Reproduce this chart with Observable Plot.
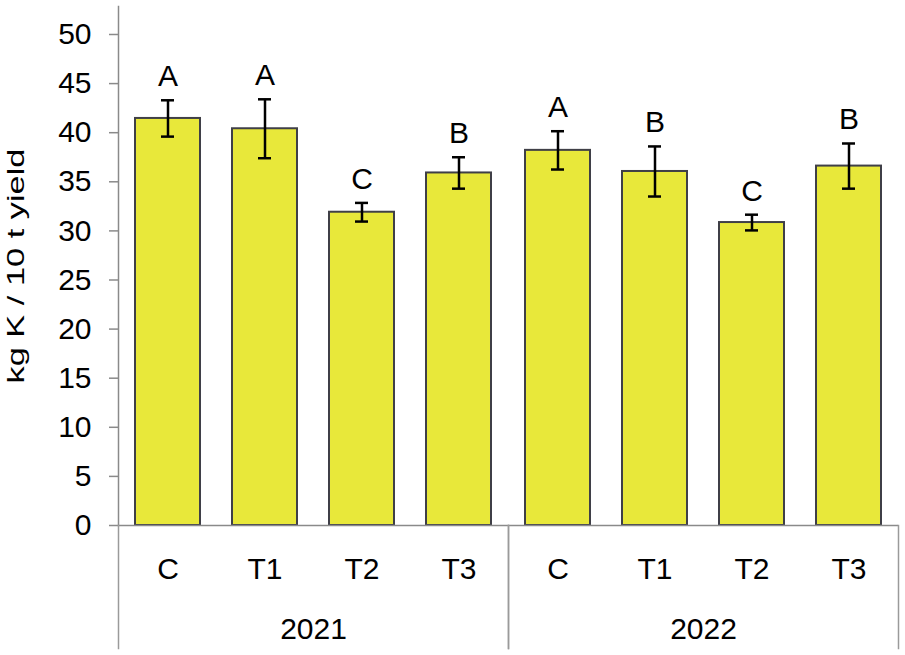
<!DOCTYPE html>
<html><head><meta charset="utf-8">
<script src="https://cdn.jsdelivr.net/npm/d3@7"></script>
<script src="https://cdn.jsdelivr.net/npm/@observablehq/plot@0.6"></script>
<style>body{margin:0;background:#fff}</style>
</head><body><div id="chart"></div>
<script>
const years = ["2021","2021","2021","2021","2022","2022","2022","2022"];
const treatments = ["C","T1","T2","T3","C","T1","T2","T3"];
const means = [41.45, 40.4, 31.9, 35.9, 38.2, 36.05, 30.85, 36.6];
const errors = [1.85, 3.0, 0.95, 1.6, 1.95, 2.55, 0.8, 2.3];
const letters = ["A","A","C","B","A","B","C","B"];
const yearLabels = ["2021","2022"];
const treatmentLabels = ["C","T1","T2","T3"];
const yTicks = [0,5,10,15,20,25,30,35,40,45,50];
const yTitle = "kg K / 10 t yield";

const data = years.map((y,i)=>({year:y, trt:treatments[i], mean:means[i], lo:means[i]-errors[i], hi:means[i]+errors[i], letter:letters[i]}));

const plot = Plot.plot({
  width: 905, height: 655,
  marginLeft: 117, marginRight: 7, marginTop: 6, marginBottom: 130,
  style: {fontFamily: "'Liberation Sans', Arial, sans-serif", fontSize: "30px", color:"#000", background:"#fff"},
  fx: {domain: yearLabels, padding: 0, label: null},
  x: {domain: treatmentLabels, paddingInner: 0.33, paddingOuter: 0.165, label: null},
  y: {domain: [0, 52.85], label: null},
  marks: [
    Plot.barY(data, {fx:"year", x:"trt", y:"mean", fill:"#e8e83a", stroke:"#3f3f47", strokeWidth:2}),
    Plot.frame({anchor:"left", facetAnchor:"left", stroke:"#8a8a8a", strokeWidth:1.5}),
    Plot.ruleY([0], {stroke:"#8a8a8a", strokeWidth:1.5}),
    Plot.ruleX(data, {fx:"year", x:"trt", y1:"lo", y2:"hi", stroke:"#000", strokeWidth:2.5}),
    Plot.tickY(data, {fx:"year", x:"trt", y:"lo", stroke:"#000", strokeWidth:2.5, insetLeft:26, insetRight:26}),
    Plot.tickY(data, {fx:"year", x:"trt", y:"hi", stroke:"#000", strokeWidth:2.5, insetLeft:26, insetRight:26}),
    Plot.text(data, {fx:"year", x:"trt", y:"hi", text:"letter", lineAnchor:"bottom", dy:-14, fontSize:30, fill:"#000"}),
    Plot.axisY({ticks: yTicks, tickSize: 9, tickPadding: 18, stroke:"#8a8a8a", fill:"#000", strokeWidth:1.5, label: yTitle, labelArrow: "none", labelAnchor:"center", labelOffset: 112}),
    Plot.axisX({tickSize:0, tickPadding:32, label:null, fill:"#000"}),
    Plot.axisFx({anchor:"bottom", tickSize:0, tickPadding:92, label:null, fill:"#000"}),
    Plot.frame({anchor:"left", stroke:"#9a9a9a", strokeWidth:1.5, insetTop: 519, insetBottom: -123}),
    Plot.frame({anchor:"right", stroke:"#9a9a9a", strokeWidth:1.5, insetTop: 519, insetBottom: -123})
  ]
});
document.getElementById("chart").appendChild(plot);
plot.querySelectorAll('[aria-label="y-axis label"], [aria-label="y-axis label"] text').forEach(el => {
  el.setAttribute("font-size", "24");
  el.style.fontSize = "24px";
});
plot.querySelectorAll('[aria-label="y-axis label"] text').forEach(el => {
  el.setAttribute("textLength", "235");
  el.setAttribute("lengthAdjust", "spacingAndGlyphs");
});
</script>
</body></html>
